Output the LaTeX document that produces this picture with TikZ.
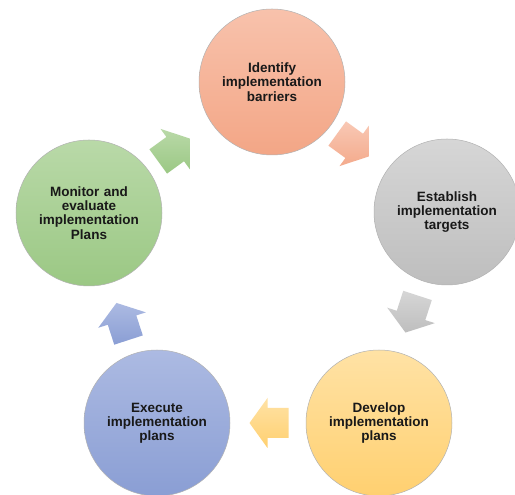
\documentclass[tikz,border=0pt]{standalone}
\usepackage{fontspec}
\setmainfont{Liberation Sans}
\definecolor{orT}{RGB}{248,194,172}
\definecolor{orB}{RGB}{243,166,134}
\definecolor{grT}{RGB}{214,214,214}
\definecolor{grB}{RGB}{190,190,190}
\definecolor{yeT}{RGB}{255,226,165}
\definecolor{yeB}{RGB}{255,208,112}
\definecolor{blT}{RGB}{172,186,226}
\definecolor{blB}{RGB}{138,158,212}
\definecolor{gnT}{RGB}{185,217,168}
\definecolor{gnB}{RGB}{155,200,132}
\tikzset{
  stage/.style={circle, minimum size=146pt, inner sep=0pt, draw=black!30, line width=0.5pt,
    align=center, text width=112pt, text=black!90,
    font=\bfseries\fontsize{13.5}{14.2}\selectfont},
  barr/.pic={\path[pic actions] (-19.5,-15) -- (1.5,-15) -- (1.5,-25) -- (19.5,0)
      -- (1.5,25) -- (1.5,15) -- (-19.5,15) -- cycle;}
}
\begin{document}
\begin{tikzpicture}[x=1pt,y=1pt]
\useasboundingbox[fill=white] (0,0) rectangle (515,495);
\node[stage, top color=orT, bottom color=orB] (n1) at (272,413) {Identify\\implementation\\barriers};
\node[stage, top color=grT, bottom color=grB] (n2) at (447,283) {Establish\\implementation\\targets};
\node[stage, top color=yeT, bottom color=yeB] (n3) at (379,72) {Develop\\implementation\\plans};
\node[stage, top color=blT, bottom color=blB] (n4) at (157,72) {Execute\\implementation\\plans};
\node[stage, top color=gnT, bottom color=gnB] (n5) at (89,282) {Monitor and\\evaluate\\implementation\\Plans};
\pic[rotate=-36, top color=orT!90!white, bottom color=orB!95!white] at (353,350) {barr};
\pic[rotate=-108, top color=grT, bottom color=grB] at (411.5,181) {barr};
\pic[rotate=180, top color=yeT, bottom color=yeB] at (269,72) {barr};
\pic[rotate=108, top color=blT, bottom color=blB] at (122.5,173.5) {barr};
\pic[rotate=36, top color=gnT, bottom color=gnB] at (174,345) {barr};
\end{tikzpicture}
\end{document}
